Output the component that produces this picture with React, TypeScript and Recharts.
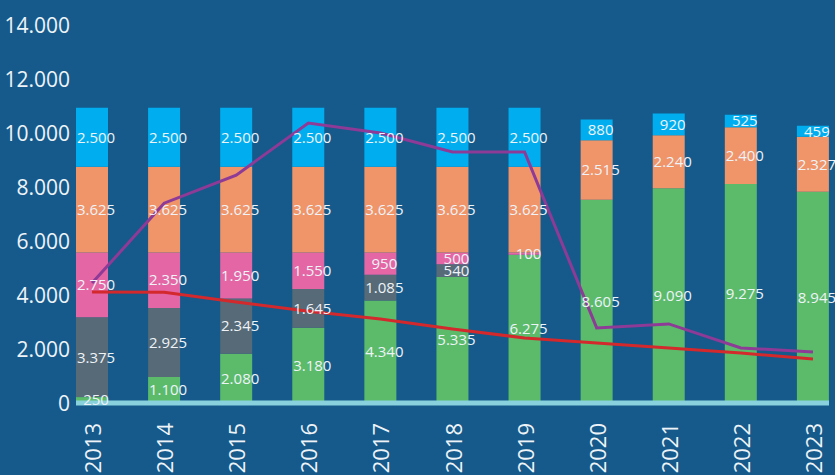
import React from 'react';
import {
  ComposedChart,
  Bar,
  Line,
  XAxis,
  YAxis,
  LabelList,
} from 'recharts';

const years = ['2013', '2014', '2015', '2016', '2017', '2018', '2019', '2020', '2021', '2022', '2023'];
const green = [250, 1100, 2080, 3180, 4340, 5335, 6275, 8605, 9090, 9275, 8945];
const slate = [3375, 2925, 2345, 1645, 1085, 540, 0, 0, 0, 0, 0];
const pink = [2750, 2350, 1950, 1550, 950, 500, 100, 0, 0, 0, 0];
const orange = [3625, 3625, 3625, 3625, 3625, 3625, 3625, 2515, 2240, 2400, 2327];
const blue = [2500, 2500, 2500, 2500, 2500, 2500, 2500, 880, 920, 525, 459];
const redLine = [4110, 4100, 3740, 3400, 3110, 2740, 2410, 2220, 2040, 1850, 1630];
const purpleLine = [4440, 7400, 8440, 10370, 10000, 9300, 9300, 2780, 2930, 2040, 1890];
const yTicks = [0, 2000, 4000, 6000, 8000, 10000, 12000, 14000];

const data = years.map((year, i) => ({
  year,
  green: green[i],
  slate: slate[i],
  pink: pink[i],
  orange: orange[i],
  blue: blue[i],
  red: redLine[i],
  purple: purpleLine[i],
}));

const BG = '#155a8b';
const TEXT = '#eef3f8';
const FONT = '"Open Sans", sans-serif';

const fmt = (v: any) => {
  const n = Number(v);
  if (!n) return '';
  return String(n).replace(/\B(?=(\d{3})+(?!\d))/g, '.');
};

const YearTick = (props: any) => {
  const { x, y, payload } = props;
  return (
    <text
      x={x}
      y={y + 12}
      transform={`rotate(-90 ${x} ${y + 12})`}
      textAnchor="end"
      dominantBaseline="central"
      fill={TEXT}
      fontSize={22}
      fontFamily={FONT}
    >
      {payload.value}
    </text>
  );
};

// value ticks sit right-aligned just left of the plot
const ValueTick = (props: any) => {
  const { y, payload } = props;
  const v = payload.value;
  return (
    <text
      x={70}
      y={y}
      textAnchor="end"
      dominantBaseline="central"
      fill={TEXT}
      fontSize={21}
      fontFamily={FONT}
    >
      {v === 0 ? '0' : fmt(v)}
    </text>
  );
};

const labelStyle = { fill: TEXT, fontSize: 15, fontFamily: FONT };

export default function App() {
  const series = [
    { key: 'green', color: '#5bbb6b' },
    { key: 'slate', color: '#566a77' },
    { key: 'pink', color: '#e466a4' },
    { key: 'orange', color: '#f09469' },
    { key: 'blue', color: '#00aeef' },
  ];
  return (
    <div
      style={{
        position: 'absolute',
        left: 0,
        top: 0,
        width: 835,
        height: 475,
        overflow: 'hidden',
        background: BG,
      }}
    >
      <ComposedChart
        width={835}
        height={475}
        data={data}
        margin={{ top: 25, right: 6, bottom: 0, left: 0 }}
      >
        <XAxis
          dataKey="year"
          padding={{ left: -20, right: -20 }}
          axisLine={{ stroke: '#88d1dd', strokeWidth: 5 }}
          tickLine={false}
          tick={<YearTick />}
          interval={0}
          height={72}
        />
        <YAxis
          yAxisId="left"
          domain={[0, 14000]}
          ticks={yTicks}
          width={76}
          axisLine={false}
          tickLine={false}
          tick={<ValueTick />}
        />
        <YAxis yAxisId="bars" orientation="right" hide width={0} domain={[0, 16000]} />
        {series.map(s => (
          <Bar
            key={s.key}
            yAxisId="bars"
            dataKey={s.key}
            stackId="a"
            fill={s.color}
            barSize={32}
            isAnimationActive={false}
          >
            <LabelList
              dataKey={s.key}
              position="center"
              formatter={fmt}
              style={labelStyle}
              dx={4}
            />
          </Bar>
        ))}
        <Line
          yAxisId="left"
          type="linear"
          dataKey="purple"
          stroke="#8e3a97"
          strokeWidth={3}
          dot={false}
          isAnimationActive={false}
        />
        <Line
          yAxisId="left"
          type="linear"
          dataKey="red"
          stroke="#d3282c"
          strokeWidth={3}
          dot={false}
          isAnimationActive={false}
        />
      </ComposedChart>
    </div>
  );
}
